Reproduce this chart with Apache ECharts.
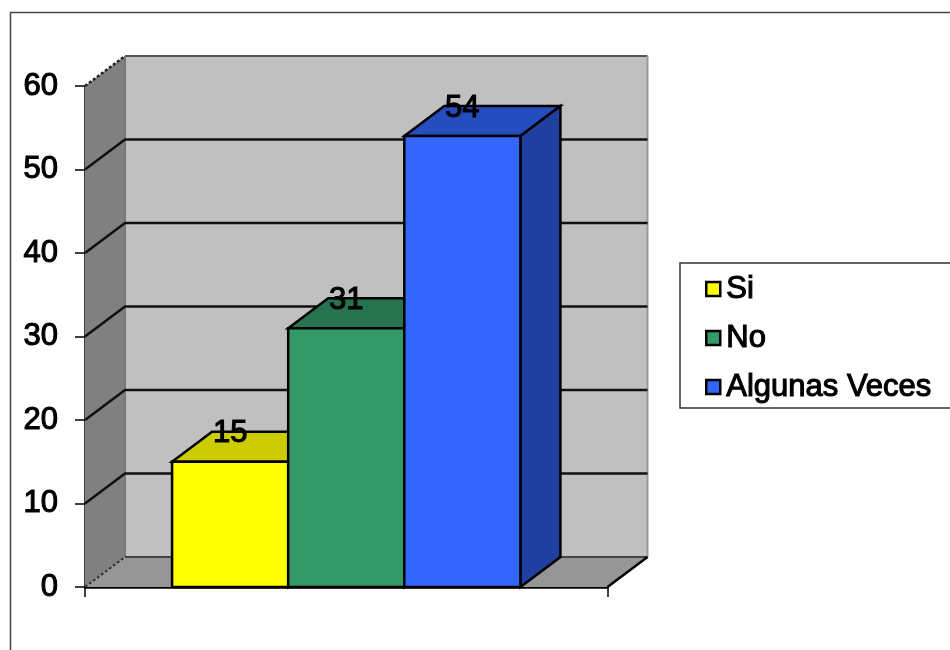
<!DOCTYPE html>
<html>
<head>
<meta charset="utf-8">
<style>html,body{margin:0;padding:0;background:#fff}#c{width:950px;height:650px}</style>
<script src="https://cdn.jsdelivr.net/npm/echarts@6/dist/echarts.min.js"></script>
</head>
<body>
<div id="c"></div>
<script>
const categories = [""];
const seriesNames = ["Si", "No", "Algunas Veces"];
const siValues = [15];
const noValues = [31];
const algunasValues = [54];
const yTicks = [0, 10, 20, 30, 40, 50, 60];
const frontColors = ["#FFFF00", "#339966", "#3366FF"];
const topColors = ["#CCCC00", "#28734F", "#264DC0"];
const sideColors = ["#A0A000", "#1F6040", "#1F40A0"];
const depthX = 40, depthY = -30, gapShare = 1.5;
const fontName = "'Liberation Sans', Arial, sans-serif";

function poly(points, fill, stroke, w) {
  return { type: "polygon", shape: { points }, style: { fill, stroke: stroke || null, lineWidth: w || 0 } };
}
function line(points, stroke, w, dash) {
  return { type: "polyline", shape: { points }, style: { fill: null, stroke, lineWidth: w, lineDash: dash || null } };
}
function wallsItem(params) {
  const g = params.coordSys, x0 = g.x, x1 = g.x + g.width, yT = g.y, yB = g.y + g.height;
  const bx = (x) => x + depthX, by = (y) => y + depthY;
  return { type: "group", children: [
    poly([[bx(x0), by(yT)], [bx(x1), by(yT)], [bx(x1), by(yB)], [bx(x0), by(yB)]], "#C0C0C0"),
    poly([[x0, yT], [bx(x0), by(yT)], [bx(x0), by(yB)], [x0, yB]], "#808080"),
    poly([[x0, yB], [x1, yB], [bx(x1), by(yB)], [bx(x0), by(yB)]], "#969696"),
    line([[bx(x0), by(yT)], [bx(x1), by(yT)]], "#555555", 2),
    line([[bx(x1), by(yT)], [bx(x1), by(yB)]], "#999999", 2),
    line([[bx(x0), by(yT)], [bx(x0), by(yB)]], "#777777", 2),
    line([[bx(x0), by(yB)], [bx(x1), by(yB)]], "#444444", 2),
    line([[x0, yT], [bx(x0), by(yT)]], "#222222", 2.5, [3, 2]),
    line([[x0, yB], [bx(x0), by(yB)]], "#333333", 2, [3, 2]),
    line([[x1, yB], [bx(x1), by(yB)]], "#000000", 2.5)
  ]};
}
function gridItem(params, api) {
  const g = params.coordSys;
  const p = api.coord([0, api.value(1)]);
  const x0 = g.x, x1 = g.x + g.width;
  return line([[x0, p[1]], [x0 + depthX, p[1] + depthY], [x1 + depthX, p[1] + depthY]], "#111111", 2.5);
}
function barItem(idx) {
  return function (params, api) {
    const band = api.size([1, 0])[0];
    const w = band / (seriesNames.length + gapShare);
    const c = api.coord([0, api.value(1)]);
    const base = api.coord([0, 0]);
    const l = c[0] + (idx - seriesNames.length / 2) * w;
    const r = l + w, t = c[1], b = base[1];
    const bs = { stroke: "#000000", lineWidth: 2.5 };
    return { type: "group", children: [
      poly([[l, t], [r, t], [r + depthX, t + depthY], [l + depthX, t + depthY]], topColors[idx], bs.stroke, bs.lineWidth),
      poly([[r, t], [r + depthX, t + depthY], [r + depthX, b + depthY], [r, b]], sideColors[idx], bs.stroke, bs.lineWidth),
      poly([[l, t], [r, t], [r, b], [l, b]], frontColors[idx], bs.stroke, bs.lineWidth),
      { type: "text", z2: 50, style: {
          text: String(api.value(1)), x: (l + r) / 2, y: t + depthY + 2, align: "center", verticalAlign: "middle",
          font: "31px " + fontName, fill: "#000000", stroke: "#000000", lineWidth: 1.1 } }
    ]};
  };
}

const chart = echarts.init(document.getElementById("c"), null, { renderer: "canvas" });
const valueLists = [siValues, noValues, algunasValues];
chart.setOption({
  animation: false,
  backgroundColor: "#ffffff",
  graphic: [{ type: "rect", z: -1, silent: true, shape: { x: 10.5, y: 12.5, width: 1000, height: 700 },
    style: { fill: "#ffffff", stroke: "#444444", lineWidth: 1.5 } }],
  grid: { left: 85, right: 342.5, top: 86, bottom: 63 },
  legend: {
    orient: "vertical", left: 680, top: 263,
    padding: [8, 40, 3, 25], itemGap: 13, itemWidth: 14, itemHeight: 14,
    backgroundColor: "#ffffff", borderColor: "#333333", borderWidth: 1.5, borderRadius: 0,
    textStyle: { fontFamily: fontName, fontSize: 31, color: "#000000", lineHeight: 36, padding: [0, 0, 0, 1],
      textBorderColor: "#000000", textBorderWidth: 1.1 },
    data: seriesNames.map((n, i) => ({ name: n, icon: "rect",
      itemStyle: { color: frontColors[i], borderColor: "#000000", borderWidth: 2.5 } }))
  },
  xAxis: { type: "category", data: categories, boundaryGap: true,
    axisLine: { show: true, lineStyle: { color: "#000", width: 2.5 } },
    axisTick: { show: true, alignWithLabel: false, length: 10, lineStyle: { color: "#000", width: 1.5 } },
    axisLabel: { show: false }, splitLine: { show: false } },
  yAxis: { type: "value", min: 0, max: 60, interval: 10,
    axisLine: { show: true, lineStyle: { color: "#000", width: 2.5 } },
    axisTick: { show: true, length: 10, lineStyle: { color: "#000", width: 1.5 } },
    axisLabel: { fontFamily: fontName, fontSize: 31, color: "#000", margin: 27, textBorderColor: "#000", textBorderWidth: 1.1 },
    splitLine: { show: false } },
  tooltip: { show: false },
  series: [
    { type: "custom", name: "walls", silent: true, z: 1, renderItem: wallsItem, data: [[0, 0]], encode: { x: 0, y: 1 }, clip: false },
    { type: "custom", name: "gridlines", silent: true, z: 1.5, renderItem: gridItem, data: yTicks.slice(1, -1).map((v) => [0, v]), encode: { x: 0, y: 1 }, clip: false }
  ].concat(seriesNames.map((n, i) => ({
    type: "custom", name: n, z: 2 + i, clip: false, renderItem: barItem(i),
    itemStyle: { color: frontColors[i] }, encode: { x: 0, y: 1 },
    data: valueLists[i].map((v) => [0, v])
  })))
});
</script>
</body>
</html>
